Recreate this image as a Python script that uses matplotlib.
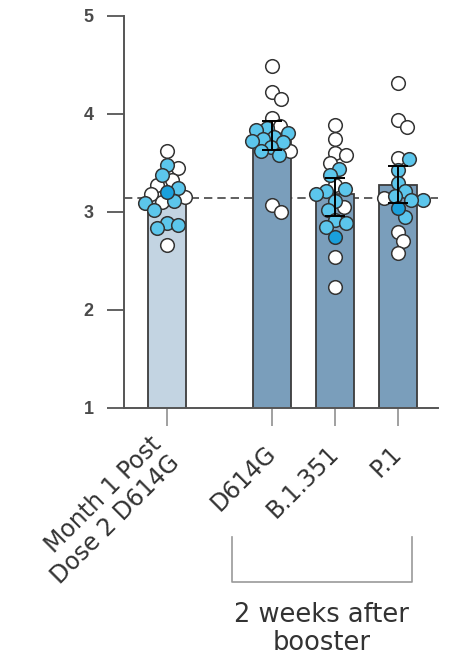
import numpy as np
import matplotlib
matplotlib.use("Agg")
import matplotlib.pyplot as plt
from matplotlib.lines import Line2D

# values
labels = ["Month 1 Post\nDose 2 D614G", "D614G", "B.1.351", "P.1"]
bar_means = [3.12, 3.72, 3.18, 3.28]
err_low = [None, 3.63, 2.96, 3.09]
err_high = [None, 3.93, 3.35, 3.47]
cutoff = 3.145

g1_white = [3.62, 3.45, 3.33, 3.28, 3.18, 3.15, 3.10, 2.66]
g1_blue = [3.48, 3.38, 3.24, 3.11, 3.09, 3.02, 2.89, 2.87, 2.84]
g1_dark = [3.20]

g2_white = [4.49, 4.22, 4.15, 3.96, 3.88, 3.62, 3.07, 3.00]
g2_blue = [3.86, 3.84, 3.81, 3.77, 3.75, 3.72, 3.71, 3.66, 3.62, 3.58]
g2_dark = []

g3_white = [3.89, 3.74, 3.60, 3.58, 3.50, 3.28, 3.05, 2.54, 2.23]
g3_blue = [3.44, 3.38, 3.23, 3.21, 3.18, 3.11, 3.02, 2.92, 2.89, 2.85]
g3_dark = [2.75]

g4_white = [4.32, 3.94, 3.87, 3.55, 3.14, 2.80, 2.70, 2.58]
g4_blue = [3.54, 3.43, 3.30, 3.21, 3.16, 3.12, 3.12, 2.95]
g4_dark = [3.04]

groups = [(g1_white, g1_blue, g1_dark), (g2_white, g2_blue, g2_dark),
          (g3_white, g3_blue, g3_dark), (g4_white, g4_blue, g4_dark)]

xpos = [0, 1.667, 2.667, 3.667]
bar_colors = ["#c3d4e2", "#7a9ebb", "#7a9ebb", "#7a9ebb"]
point_colors = {"white": "white", "blue": "#5cc6ec", "dark": "#1aa0dc"}

W, H, DPI = 449, 660, 100
fig = plt.figure(figsize=(W / DPI, H / DPI), dpi=DPI)
ax = fig.add_axes([124 / W, 1 - 408 / H, 314 / W, 392 / H])
xlim = (-0.68, 4.30)
ylim = (1, 5)
ax.set_xlim(xlim)
ax.set_ylim(ylim)

px_x = 314 / (xlim[1] - xlim[0])
px_y = 392 / (ylim[1] - ylim[0])
diam = 13.5


def swarm(values, dmin):
    # simple beeswarm in pixel space, overlap allowed via dmin < diameter
    order = np.argsort(values)[::-1]
    placed = []
    offs = np.zeros(len(values))
    for i in order:
        y = values[i] * px_y
        cands = [0.0]
        for (xj, yj) in placed:
            dy = abs(y - yj)
            if dy < dmin:
                dx = np.sqrt(dmin ** 2 - dy ** 2)
                cands += [xj + dx, xj - dx]
        cands.sort(key=abs)
        for c in cands:
            ok = all((c - xj) ** 2 + (y - yj) ** 2 >= dmin ** 2 - 1e-6 for xj, yj in placed)
            if ok:
                break
        placed.append((c, y))
        offs[i] = c
    return offs / px_x


ax.axhline(cutoff, color="#444444", lw=1.2, ls=(0, (5, 3)), zorder=1)

ax.bar(xpos, bar_means, width=0.6, bottom=0, color=bar_colors,
       edgecolor="#3c3c3c", linewidth=1.3, zorder=2)

for x0, (wh, bl, dk) in zip(xpos, groups):
    vals = np.array(wh + bl + dk)
    kinds = ["white"] * len(wh) + ["blue"] * len(bl) + ["dark"] * len(dk)
    offs = swarm(vals, diam * 0.82)
    for v, o, k in zip(vals, offs, kinds):
        ax.scatter(x0 + o, v, s=96, facecolor=point_colors[k],
                   edgecolor="#333333", linewidth=1.1, zorder=3)

for x0, lo, hi, m in zip(xpos, err_low, err_high, bar_means):
    if lo is None:
        continue
    ax.errorbar(x0, m, yerr=[[m - lo], [hi - m]], fmt="none", ecolor="black",
                elinewidth=1.4, capsize=7.5, capthick=1.4, zorder=4)

for s in ["top", "right"]:
    ax.spines[s].set_visible(False)
for s in ["left", "bottom"]:
    ax.spines[s].set_color("#555555")
    ax.spines[s].set_linewidth(1.4)

ax.set_yticks([1, 2, 3, 4, 5])
ax.tick_params(axis="y", length=12, width=1.3, color="#555555", pad=10,
               labelsize=13, labelcolor="#4a4a4a")
for t in ax.get_yticklabels():
    t.set_fontweight("bold")
    t.set_family("Liberation Sans")

ax.set_xticks(xpos)
ax.set_xticklabels(labels, rotation=45, ha="right", va="center",
                   rotation_mode="anchor", fontsize=17, color="#333333",
                   family="DejaVu Sans", linespacing=1.1)
ax.tick_params(axis="x", length=13, width=1.3, color="#999999", pad=17)
ax.xaxis.get_major_ticks()[0].tick1line.set_color("#444444")

# bracket under the booster groups
fx = [232 / W, 232 / W, 412 / W, 412 / W]
fy = [1 - 537 / H, 1 - 582 / H, 1 - 582 / H, 1 - 537 / H]
fig.add_artist(Line2D(fx, fy, transform=fig.transFigure, color="#999999", lw=1.2))
fig.text(322 / W, 1 - 629 / H, "2 weeks after\nbooster", ha="center", va="center",
         fontsize=18.5, color="#333333", family="DejaVu Sans", linespacing=1.05)

fig.savefig("out.png", dpi=DPI)
